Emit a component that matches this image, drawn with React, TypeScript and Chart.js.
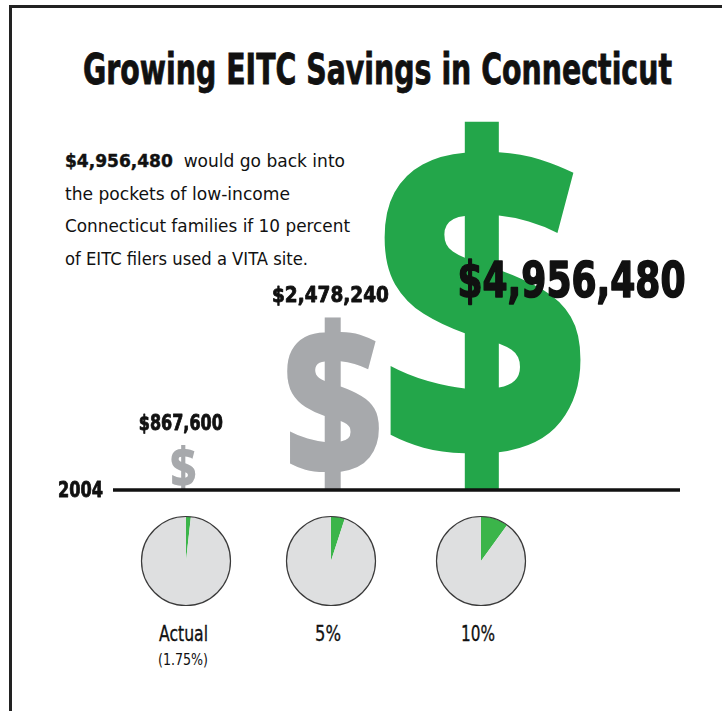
import React, { useEffect, useLayoutEffect, useRef } from 'react';
import { Chart, registerables } from 'chart.js';

Chart.register(...registerables);

// ---------- data ----------
const categories = ['Actual', '5%', '10%'];
const participationRates = [1.75, 5, 10];
const savings = [867600, 2478240, 4956480];
const baselineLabel = '2004';
const titleText = 'Growing EITC Savings in Connecticut';
const noteLines = [
  'would go back into',
  'the pockets of low-income',
  'Connecticut families if 10 percent',
  'of EITC filers used a VITA site.',
];

// ---------- style ----------
const GREEN = '#23a64a';
const PIE_GREEN = '#3bb54a';
const GRAY = '#a7a9ac';
const PIE_GRAY = '#dedfe0';
const INK = '#111111';
const FONT = '"Liberation Sans Narrow", "DejaVu Sans Condensed", "Liberation Sans", "DejaVu Sans", sans-serif';
const GLYPH_FONT = '"Open Sans", "Roboto", "Liberation Sans", sans-serif';

const money = (v: number) => '$' + v.toLocaleString('en-US');

type FitProps = {
  children: React.ReactNode;
  x: number;
  baseline: number;
  width: number;
  size: number;
  weight?: string | number;
  align?: 'left' | 'center';
  stroke?: number;
};

function Fit({ children, x, baseline, width, size, weight = 'bold', align = 'left', stroke = 0 }: FitProps) {
  const ref = useRef<HTMLSpanElement>(null);
  const fit = () => {
    const el = ref.current;
    if (!el) return;
    el.style.transform = 'none';
    const w = el.getBoundingClientRect().width;
    if (w > 0) el.style.transform = `scaleX(${width / w})`;
  };
  useLayoutEffect(() => {
    fit();
    if ((document as any).fonts && (document as any).fonts.ready) {
      (document as any).fonts.ready.then(fit);
    }
  });
  const left = align === 'center' ? x - width / 2 : x;
  return (
    <span
      ref={ref}
      style={{
        position: 'absolute',
        left,
        top: baseline - 0.846 * size,
        fontFamily: FONT,
        fontSize: size,
        fontWeight: weight as any,
        lineHeight: `${size}px`,
        whiteSpace: 'pre',
        transformOrigin: '0 0',
        color: INK,
        WebkitTextStroke: stroke ? `${stroke}px ${INK}` : undefined,
      }}
    >
      {children}
    </span>
  );
}

function fitText(
  ctx: CanvasRenderingContext2D,
  text: string,
  x: number,
  baseline: number,
  size: number,
  width: number,
  align: 'center' | 'right' | 'left',
  stroke = 0.8,
) {
  ctx.save();
  ctx.font = `bold ${size}px ${FONT}`;
  const w = ctx.measureText(text).width;
  const sx = width / w;
  ctx.translate(x, baseline);
  ctx.scale(sx, 1);
  ctx.textAlign = align;
  ctx.textBaseline = 'alphabetic';
  ctx.fillStyle = INK;
  ctx.fillText(text, 0, 0);
  if (stroke > 0) {
    ctx.strokeStyle = INK;
    ctx.lineWidth = stroke;
    ctx.lineJoin = 'round';
    ctx.strokeText(text, 0, 0);
  }
  ctx.restore();
}

const LABEL_WIDTHS = [84, 117, 228];

function SavingsChart() {
  const ref = useRef<HTMLCanvasElement>(null);
  useEffect(() => {
    if (!ref.current) return;
    const glyphPlugin = {
      id: 'dollarGlyphs',
      afterDatasetsDraw(chart: any) {
        const { ctx, chartArea, scales } = chart;
        const meta = chart.getDatasetMeta(0);
        const colors = chart.data.datasets[0].glyphColors as string[];
        const last = meta.data.length - 1;
        const baseY = scales.y.getPixelForValue(scales.y.min);
        meta.data.forEach((bar: any, i: number) => {
          const top = bar.y;
          const h = baseY - top;
          const w = h * 0.53;
          ctx.save();
          ctx.font = `800 200px ${GLYPH_FONT}`;
          const m = ctx.measureText('$');
          const gw = m.actualBoundingBoxLeft + m.actualBoundingBoxRight;
          const gh = m.actualBoundingBoxAscent + m.actualBoundingBoxDescent;
          ctx.translate(bar.x - w / 2, top);
          ctx.scale(w / gw, h / gh);
          ctx.fillStyle = colors[i];
          ctx.textAlign = 'left';
          ctx.textBaseline = 'alphabetic';
          ctx.fillText('$', m.actualBoundingBoxLeft, m.actualBoundingBoxAscent);
          ctx.restore();
        });
        // baseline
        ctx.save();
        ctx.strokeStyle = INK;
        ctx.lineWidth = 3.5;
        ctx.beginPath();
        ctx.moveTo(chartArea.left, baseY);
        ctx.lineTo(chartArea.right, baseY);
        ctx.stroke();
        ctx.restore();
        fitText(ctx, baselineLabel, chartArea.left - 10, baseY + 7, 22, 45, 'right');
        // value labels
        meta.data.forEach((bar: any, i: number) => {
          const value = chart.data.datasets[0].data[i].y as number;
          const txt = money(value);
          const h = baseY - bar.y;
          if (i === last) {
            fitText(ctx, txt, bar.x + 0.24 * h, baseY - 0.52 * h, 50, LABEL_WIDTHS[i], 'center', 1.6);
          } else {
            fitText(ctx, txt, bar.x - 2.5, bar.y - 15, 21.5, LABEL_WIDTHS[i], 'center');
          }
        });
      },
    };
    const chart = new Chart(ref.current, {
      type: 'bar',
      data: {
        datasets: [
          {
            label: 'EITC savings',
            data: savings.map((v, i) => ({ x: i, y: v })),
            backgroundColor: 'rgba(0,0,0,0)',
            borderWidth: 0,
            glyphColors: savings.map((_, i) => (i === savings.length - 1 ? GREEN : GRAY)),
          } as any,
        ],
      },
      options: {
        responsive: true,
        maintainAspectRatio: false,
        animation: false,
        events: [],
        layout: { padding: { left: 113, right: 42, top: 0, bottom: 20 } },
        scales: {
          x: { type: 'linear', display: false, offset: false, min: -0.47, max: 3.32 },
          y: { display: false, min: 300000, max: 5200000 },
        },
        plugins: { legend: { display: false }, tooltip: { enabled: false }, title: { display: false } },
      },
      plugins: [glyphPlugin],
    });
    return () => chart.destroy();
  }, []);
  return (
    <div style={{ position: 'absolute', left: 0, top: 100, width: 722, height: 410 }}>
      <canvas ref={ref} />
    </div>
  );
}

function RatePie({ rate, cx, cy }: { rate: number; cx: number; cy: number }) {
  const ref = useRef<HTMLCanvasElement>(null);
  useEffect(() => {
    if (!ref.current) return;
    const outline = {
      id: 'outline',
      afterDatasetsDraw(chart: any) {
        const arc = chart.getDatasetMeta(0).data[0];
        if (!arc) return;
        const ctx = chart.ctx;
        ctx.save();
        ctx.strokeStyle = '#3a3a3a';
        ctx.lineWidth = 1.2;
        ctx.beginPath();
        ctx.arc(arc.x, arc.y, arc.outerRadius, 0, Math.PI * 2);
        ctx.stroke();
        ctx.restore();
      },
    };
    const chart = new Chart(ref.current, {
      type: 'pie',
      data: {
        labels: ['VITA', 'Other'],
        datasets: [
          {
            data: [rate, 100 - rate],
            backgroundColor: [PIE_GREEN, PIE_GRAY],
            borderWidth: 0,
          },
        ],
      },
      options: {
        responsive: true,
        maintainAspectRatio: false,
        animation: false,
        events: [],
        layout: { padding: 5.5 },
        plugins: { legend: { display: false }, tooltip: { enabled: false } },
      },
      plugins: [outline],
    });
    return () => chart.destroy();
  }, [rate]);
  return (
    <div style={{ position: 'absolute', left: cx - 50, top: cy - 50, width: 100, height: 100 }}>
      <canvas ref={ref} />
    </div>
  );
}

const PIE_X = [186, 331, 481];
const PIE_LABEL_WIDTHS = [49, 26, 34];

export default function App() {
  return (
    <div
      style={{
        position: 'absolute',
        left: 0,
        top: 0,
        width: 722,
        height: 711,
        overflow: 'hidden',
        background: '#fff',
      }}
    >
      <div
        style={{
          position: 'absolute',
          left: 9,
          top: 5,
          width: 713,
          height: 706,
          borderLeft: '3px solid #222',
          borderTop: '3px solid #222',
          boxSizing: 'border-box',
        }}
      />
      <Fit x={83} baseline={85} width={589} size={42} stroke={0.8}>
        {titleText}
      </Fit>
      <Fit x={65} baseline={167} width={280} size={18} weight="normal">
        <b style={{ WebkitTextStroke: `0.4px ${INK}` }}>{money(savings[savings.length - 1])}</b>
        {'  ' + noteLines[0]}
      </Fit>
      <Fit x={65} baseline={200} width={225} size={18} weight="normal">
        {noteLines[1]}
      </Fit>
      <Fit x={65} baseline={232} width={285} size={18} weight="normal">
        {noteLines[2]}
      </Fit>
      <Fit x={65} baseline={265} width={243} size={18} weight="normal">
        {noteLines[3]}
      </Fit>
      <SavingsChart />
      {participationRates.map((r, i) => (
        <RatePie key={i} rate={r} cx={PIE_X[i]} cy={561} />
      ))}
      {categories.map((c, i) => (
        <Fit key={c} x={PIE_X[i] - 3} baseline={642} width={PIE_LABEL_WIDTHS[i]} size={21} weight="normal" align="center" stroke={0.3}>
          {c}
        </Fit>
      ))}
      <Fit x={PIE_X[0] - 3} baseline={666} width={50} size={16} weight="normal" align="center">
        {`(${participationRates[0]}%)`}
      </Fit>
    </div>
  );
}
